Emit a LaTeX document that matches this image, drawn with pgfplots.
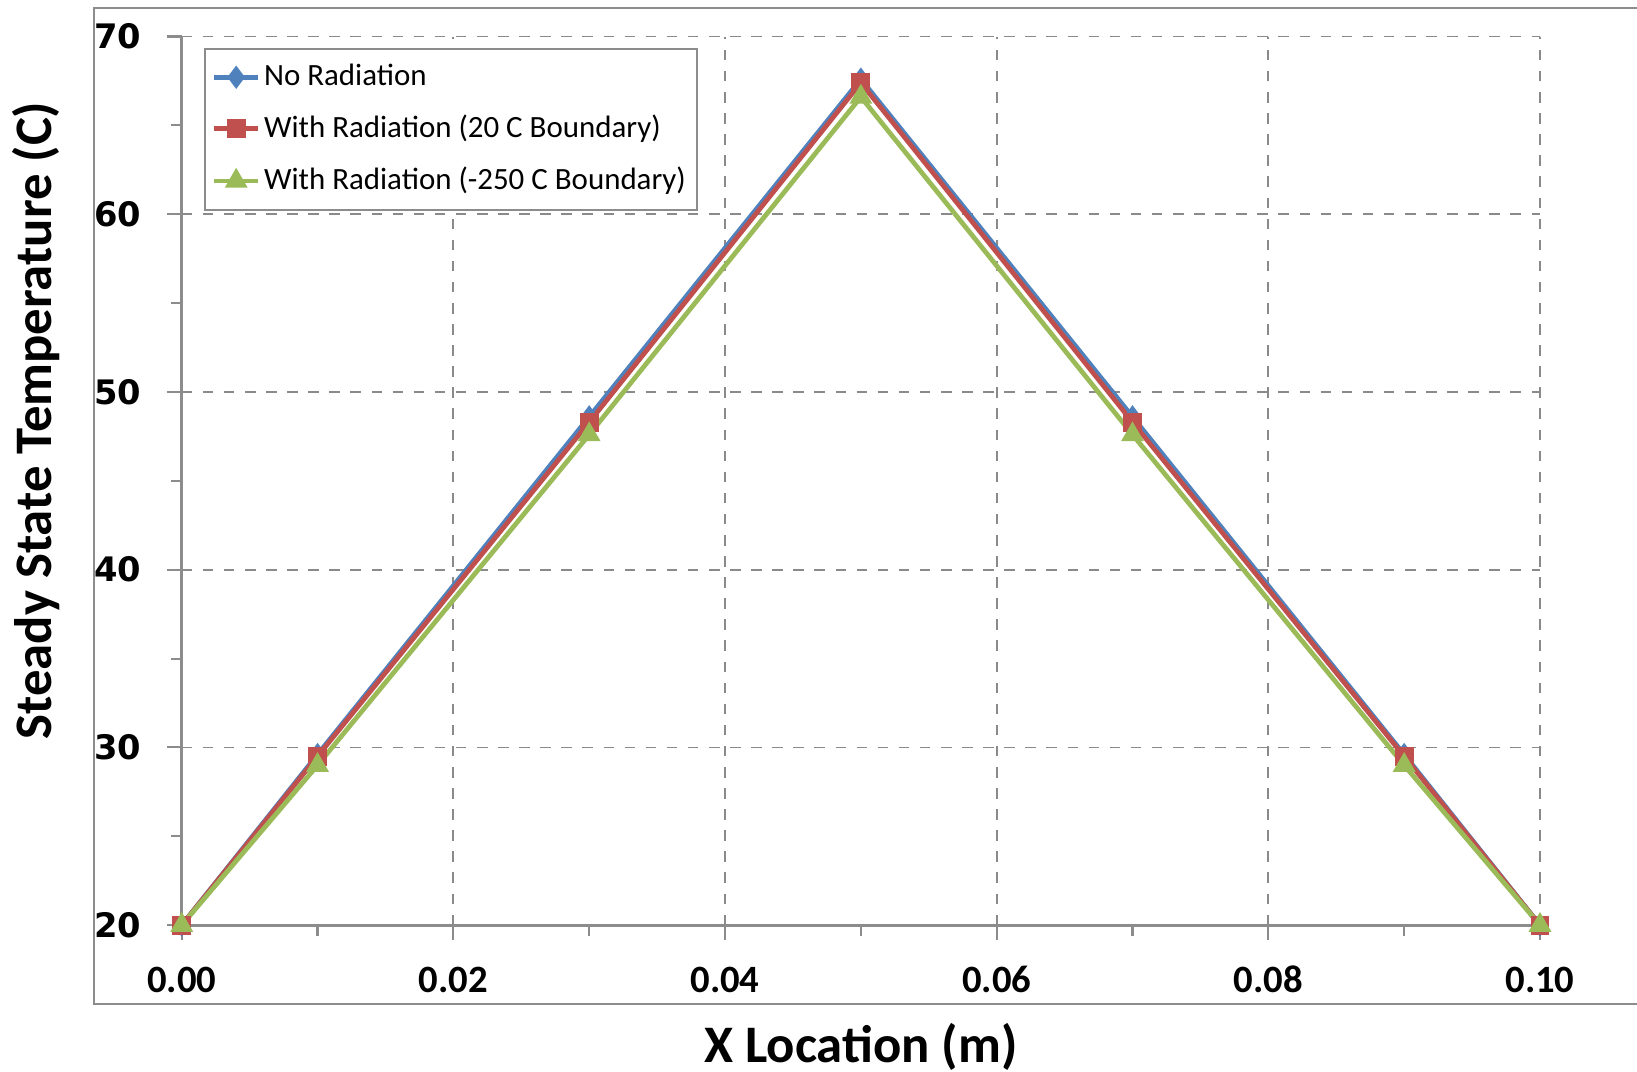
\documentclass[border=0pt]{standalone}
\usepackage{pgfplots}
\pgfplotsset{compat=1.18}
\usepackage{fontspec}
\setmainfont{Carlito}
\newfontfamily\ytickfont{DejaVu Sans}
\definecolor{sblue}{HTML}{4F81BD}
\definecolor{sred}{HTML}{C0504D}
\definecolor{sgreen}{HTML}{9BBB59}
\definecolor{axgray}{HTML}{8C8C8C}
\definecolor{gridgray}{HTML}{8A8A8A}

\begin{document}
\begin{tikzpicture}
\begin{axis}[
  name=ax,
  scale only axis,
  width=13.58cm, height=8.885cm,
  xmin=0, xmax=0.1, ymin=20, ymax=70,
  xtick={0,0.02,...,0.1},
  ytick={20,30,...,70},
  minor x tick num=1,
  minor y tick num=1,
  axis x line=bottom, axis y line=left,
  axis line style={draw=axgray, line width=0.9pt, -},
  tick align=outside,
  major tick length=1.5mm, minor tick length=1.1mm,
  tick style={draw=axgray, line width=0.6pt},
  xmajorgrids, ymajorgrids,
  grid style={draw=gridgray, dashed, line width=0.5pt},
  /pgf/number format/assume math mode=true,
  xticklabel={\pgfmathprintnumber[fixed, fixed zerofill, precision=2]{\tick}},
  xticklabel style={font=\fontsize{11}{13}\selectfont\bfseries, anchor=base, yshift=-5.25mm},
  yticklabel style={font=\fontsize{9.6}{11}\selectfont\ytickfont\bfseries, xshift=-1.3mm},
  xlabel={X Location (m)},
  ylabel={Steady State Temperature (C)},
  xlabel style={font=\fontsize{15}{18}\selectfont\bfseries, at={(axis description cs:0.5,-0.137)}, anchor=center},
  ylabel style={font=\fontsize{15}{18}\selectfont\bfseries, at={(axis description cs:-0.107,0.568)}, anchor=center, rotate=0},
  legend style={at={(axis description cs:0.0162,0.987)}, anchor=north west,
    draw=axgray, line width=0.6pt, fill=white, font=\fontsize{8.8}{10.5}\selectfont,
    inner xsep=2pt, inner ysep=2.2pt, row sep=2.9pt, nodes={inner xsep=1.0pt}},
  legend cell align=left,
  legend image code/.code={
    \draw[#1, mark repeat=2, mark phase=2] plot coordinates {(0cm,0cm) (0.22cm,0cm) (0.44cm,0cm)};
  },
  clip=false,
]
\addplot[color=sblue, line width=1.35pt, mark=diamond*, mark size=2.2pt]
  coordinates {(0,20) (0.01,29.6) (0.03,48.6) (0.05,67.6) (0.07,48.6) (0.09,29.6) (0.10,20)};
\addlegendentry{No Radiation}
\addplot[color=sred, line width=1.35pt, mark=square*, mark size=2.0pt]
  coordinates {(0,20) (0.01,29.5) (0.03,48.3) (0.05,67.4) (0.07,48.3) (0.09,29.5) (0.10,20)};
\addlegendentry{With Radiation (20 C Boundary)}
\addplot[color=sgreen, line width=1.35pt, mark=triangle*, mark size=2.4pt]
  coordinates {(0,20) (0.01,29.0) (0.03,47.6) (0.05,66.6) (0.07,47.6) (0.09,29.0) (0.10,20)};
\addlegendentry{With Radiation (-250 C Boundary)}
\end{axis}
\draw[axgray, line width=0.7pt] ([xshift=2cm,yshift=0.285cm]ax.north east) -- ([xshift=-0.877cm,yshift=0.285cm]ax.north west)
  -- ([xshift=-0.877cm,yshift=-0.79cm]ax.south west) -- ([xshift=2cm,yshift=-0.79cm]ax.south east);
\pgfresetboundingbox
\path[use as bounding box] ([xshift=-1.817cm,yshift=-1.46cm]ax.south west) rectangle ([xshift=0.97cm,yshift=0.365cm]ax.north east);
\end{tikzpicture}
\end{document}
